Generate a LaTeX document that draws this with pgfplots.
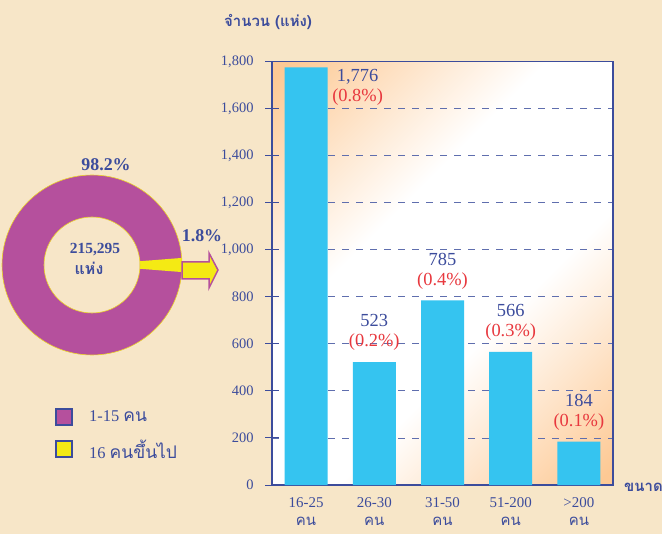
\documentclass[border=0pt]{standalone}
\usepackage{pgfplots}
\pgfplotsset{compat=1.18}
\usepackage{fontspec}
\setmainfont{Liberation Serif}
\newfontfamily\thai[Script=Thai]{Loma}
\definecolor{bgc}{HTML}{F7E6C8}
\definecolor{orangebg}{HTML}{FDC994}
\definecolor{barc}{HTML}{35C4F0}
\definecolor{txtblue}{HTML}{3C4C9C}
\definecolor{pctred}{HTML}{E8383E}
\definecolor{purp}{HTML}{B5509D}
\definecolor{yel}{HTML}{F4EA14}
\definecolor{gridc}{HTML}{5F6EAE}
\pgfdeclareverticalshading{diagbg}{100bp}{color(0bp)=(orangebg); color(16bp)=(orangebg); color(40bp)=(white); color(60bp)=(white); color(84bp)=(orangebg); color(100bp)=(orangebg)}
\begin{document}
\begin{tikzpicture}
\useasboundingbox (0,0) rectangle (662bp,534bp);
\clip (0,0) rectangle (662bp,534bp);
\fill[bgc] (0,0) rectangle (662bp,534bp);
\begin{axis}[
  at={(272bp,49bp)}, anchor=south west,
  width=341bp, height=423.3bp, scale only axis,
  xmin=-0.5, xmax=4.5, ymin=0, ymax=1800,
  axis background/.style={shading=diagbg, shading angle=45},
  axis line style={txtblue, line width=1.1bp},
  ytick={0,200,...,1800},
  ytick pos=left,
  ymajorgrids,
  major grid style={gridc, dash pattern=on 7bp off 7bp, line width=0.9bp},
  ytick style={txtblue, line width=1bp},
  major tick length=14bp, tick align=center,
  xtick={0,1,2,3,4},
  xticklabels={{16-25\\\thai คน},{26-30\\\thai คน},{31-50\\\thai คน},{51-200\\\thai คน},{>200\\\thai คน}},
  xtick style={draw=none},
  xticklabel style={align=center, font=\fontsize{15}{18.5}\selectfont, text=txtblue, yshift=-2bp},
  yticklabel style={font=\fontsize{14.5}{16}\selectfont, text=txtblue, xshift=-8bp},
  /pgf/number format/assume math mode=true,
  clip=false,
]
\addplot[ybar, bar width=43bp, fill=barc, draw=none] coordinates {(0,1776) (1,523) (2,785) (3,566) (4,184)};
\node[align=center, inner sep=0pt, anchor=center, yshift=-20bp, font=\fontsize{18.5}{20}\selectfont] at (axis cs:0.755,1776) {\textcolor{txtblue}{1,776}\\\textcolor{pctred}{(0.8\%)}};
\node[align=center, inner sep=0pt, anchor=south, yshift=11bp, font=\fontsize{18.5}{20}\selectfont] at (axis cs:1,523) {\textcolor{txtblue}{523}\\\textcolor{pctred}{(0.2\%)}};
\node[align=center, inner sep=0pt, anchor=south, yshift=11bp, font=\fontsize{18.5}{20}\selectfont] at (axis cs:2,785) {\textcolor{txtblue}{785}\\\textcolor{pctred}{(0.4\%)}};
\node[align=center, inner sep=0pt, anchor=south, yshift=11bp, font=\fontsize{18.5}{20}\selectfont] at (axis cs:3,566) {\textcolor{txtblue}{566}\\\textcolor{pctred}{(0.3\%)}};
\node[align=center, inner sep=0pt, anchor=south, yshift=11bp, font=\fontsize{18.5}{20}\selectfont] at (axis cs:4,184) {\textcolor{txtblue}{184}\\\textcolor{pctred}{(0.1\%)}};
\end{axis}
\begin{scope}[x=1bp,y=1bp]
% titles
\node[anchor=west, text=txtblue, inner sep=0pt, font=\thai\bfseries\fontsize{15}{17}\selectfont] at (224,512) {จำนวน (แห่ง)};
\node[anchor=west, text=txtblue, inner sep=0pt, font=\thai\bfseries\fontsize{15}{17}\selectfont] at (624,47) {ขนาด};
% donut: 98.2% / 1.8%
\fill[purp, even odd rule] (92,269) circle[radius=90] (92,269) circle[radius=48];
\fill[yel] ([shift={(-4.5:90)}]92,269) arc[start angle=-4.5, end angle=4.5, radius=90] -- ([shift={(4.5:48)}]92,269) arc[start angle=4.5, end angle=-4.5, radius=48] -- cycle;
\draw[yel!85!purp, line width=0.6bp] (92,269) circle[radius=90] (92,269) circle[radius=48];
\node[text=txtblue, font=\bfseries\fontsize{18}{20}\selectfont] at (106,369) {98.2\%};
\node[text=txtblue, font=\bfseries\fontsize{18}{20}\selectfont] at (202,298) {1.8\%};
\node[text=txtblue, font=\bfseries\fontsize{15.5}{17}\selectfont] at (95,284) {215,295};
\node[text=txtblue, font=\thai\bfseries\fontsize{16}{18}\selectfont] at (89,266) {แห่ง};
% arrow
\draw[fill=yel, draw=purp, line width=1.5bp, line join=miter] (182,272) -- (209,272) -- (209,281) -- (218,264) -- (209,246) -- (209,255) -- (182,255) -- cycle;
% legend
\draw[fill=purp, draw=txtblue, line width=1.8bp] (56,109) rectangle (72,125);
\draw[fill=yel, draw=txtblue, line width=1.8bp] (56,77) rectangle (72,93);
\node[anchor=west, inner sep=0pt, text=txtblue, font=\fontsize{16.5}{18}\selectfont] at (89,118) {1-15 {\thai\fontsize{17.5}{19}\selectfont คน}};
\node[anchor=west, inner sep=0pt, text=txtblue, font=\fontsize{16.5}{18}\selectfont] at (89,85) {16 {\thai\fontsize{17.5}{19}\selectfont คนขึ้นไป}};
\end{scope}
\end{tikzpicture}
\end{document}
